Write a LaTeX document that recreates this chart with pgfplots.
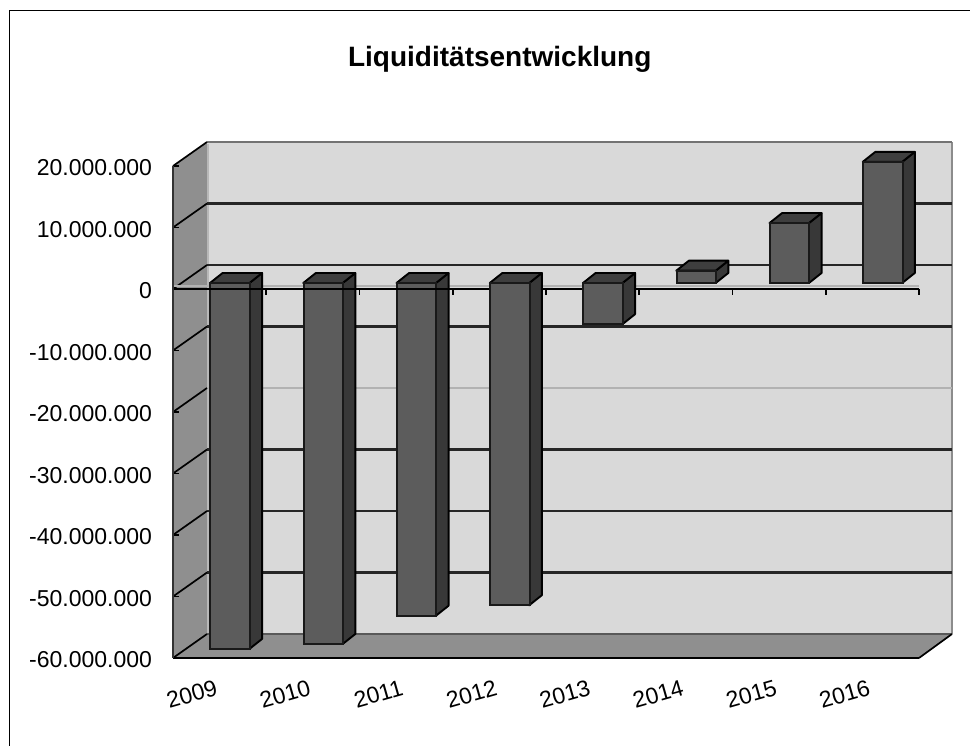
\documentclass[border=0pt]{standalone}
\usepackage{fontspec}
\setmainfont{Liberation Sans}
\usepackage{pgfplots}
\pgfplotsset{compat=1.18}
\definecolor{wallback}{HTML}{D9D9D9}
\definecolor{wallside}{HTML}{8F8F8F}
\definecolor{barfront}{HTML}{5C5C5C}
\definecolor{barside}{HTML}{383838}
\definecolor{bartop}{HTML}{3E3E3E}
\newcommand{\barbox}[2]{%
  \pgfmathsetmacro\xl{#1+0.397}%
  \pgfmathsetmacro\xr{#1+0.82}%
  \pgfmathsetmacro\xb{#1+0.955}%
  \pgfmathsetmacro\xc{#1+0.532}%
  \pgfmathsetmacro\lo{min(0,#2)+0.976}%
  \pgfmathsetmacro\hi{max(0,#2)+0.976}%
  \pgfmathsetmacro\lob{\lo+1.626}%
  \pgfmathsetmacro\hib{\hi+1.626}%
  \addplot[fill=barside,draw=black,line width=1.9pt,line join=round] coordinates {(\xr,\lo)(\xb,\lob)(\xb,\hib)(\xr,\hi)} -- cycle;
  \addplot[fill=bartop,draw=black,line width=1.9pt,line join=round] coordinates {(\xl,\hi)(\xr,\hi)(\xb,\hib)(\xc,\hib)} -- cycle;
}
\begin{document}
\begin{tikzpicture}[x=1pt,y=1pt]
\useasboundingbox (0,0) rectangle (970,746);
\fill[white] (0,0) rectangle (970,746);
\draw[black,line width=1.4pt] (9.5,0) -- (9.5,735.5) -- (970,735.5);
\begin{axis}[
  at={(173pt,88pt)}, anchor=south west,
  scale only axis, width=746pt, height=492pt,
  xmin=0, xmax=8, ymin=-60, ymax=20,
  clip=false, axis on top,
  axis x line*=bottom, axis y line*=left,
  axis line style={black,line width=1.8pt,-},
  x axis line style={black,line width=2.4pt},
  y axis line style={draw=black!80,line width=2pt},
  xtick={0.5,1.5,2.5,3.5,4.5,5.5,6.5,7.5},
  xticklabels={2009,2010,2011,2012,2013,2014,2015,2016},
  ytick={-60,-50,-40,-30,-20,-10,0,10,20},
  yticklabels={-60.000.000,-50.000.000,-40.000.000,-30.000.000,-20.000.000,-10.000.000,0,10.000.000,20.000.000},
  major tick length=6pt,
  x tick style={draw=none},
  y tick style={black,line width=1.4pt},
  tick label style={font=\fontsize{23}{27}\selectfont},
  x tick label style={rotate=16,anchor=center,xshift=-36.6pt,yshift=-27pt},
  y tick label style={anchor=east,xshift=-17.5pt,yshift=-2pt},
  title={\fontsize{28}{32}\selectfont\bfseries Liquiditätsentwicklung},
  title style={at={(0.438,1.2055)},anchor=center},
  unbounded coords=jump,
]
% walls and floor
\addplot[fill=wallback,draw=none] coordinates {(0.3646,-56.098)(8.354,-56.098)(8.354,23.902)(0.3646,23.902)} -- cycle;
\addplot[fill=wallside,draw=none] coordinates {(0,-60)(0.3646,-56.098)(0.3646,23.902)(0,20)} -- cycle;
\addplot[fill=wallside,draw=none] coordinates {(0,-60)(8,-60)(8.354,-56.098)(0.3646,-56.098)} -- cycle;
% wall edges
\addplot[color=black!45,line width=1.8pt] coordinates {(8.354,-56.098)(8.354,23.902)};
\addplot[color=black!55,line width=2.2pt] coordinates {(0.3646,23.902)(8.354,23.902)};
\addplot[color=black!28,line width=2.4pt] coordinates {(0.3746,-56)(0.3746,23.6)};
\addplot[color=black!65,line width=2pt] coordinates {(0.3646,-56.098)(8.354,-56.098)};
% grid on the back wall
\addplot[color=black!85,line width=2.6pt] coordinates {
 (0.3646,13.902)(8.354,13.902)(0,nan)
 (0.3646,3.902)(8.354,3.902)(0,nan)
 (0.3646,-6.098)(8.354,-6.098)(0,nan)
 (0.3646,-26.098)(8.354,-26.098)(0,nan)
 (0.3646,-36.098)(8.354,-36.098)(0,nan)
 (0.3646,-46.098)(8.354,-46.098)};
\addplot[color=black!30,line width=1.2pt] coordinates {(0.3646,-16.098)(8.354,-16.098)};
% grid on the side wall and floor
\addplot[color=black,line width=1.7pt] coordinates {
 (0,20)(0.3646,23.902)(0,nan)
 (0,10)(0.3646,13.902)(0,nan)
 (0,0)(0.3646,3.902)(0,nan)
 (0,-10)(0.3646,-6.098)(0,nan)
 (0,-20)(0.3646,-16.098)(0,nan)
 (0,-30)(0.3646,-26.098)(0,nan)
 (0,-40)(0.3646,-36.098)(0,nan)
 (0,-50)(0.3646,-46.098)(0,nan)
 (0,-60)(0.3646,-56.098)(0,nan)
 (8,-60)(8.354,-56.098)};
% zero line
\addplot[color=black!30,line width=2pt] coordinates {(0,0.5)(8,0.5)};
\addplot[color=black,line width=2.4pt] coordinates {(0,0)(8,0)};
\addplot[color=black,line width=1.6pt] coordinates {
 (1,0)(1,-1)(0,nan)(2,0)(2,-1)(0,nan)(3,0)(3,-1)(0,nan)(4,0)(4,-1)(0,nan)
 (5,0)(5,-1)(0,nan)(6,0)(6,-1)(0,nan)(7,0)(7,-1)(0,nan)(8,0)(8,-1)};
% 3D faces of the bars
\barbox{0}{-59.5}
\barbox{1}{-58.7}
\barbox{2}{-54.1}
\barbox{3}{-52.4}
\barbox{4}{-6.7}
\barbox{5}{2}
\barbox{6}{9.75}
\barbox{7}{19.7}
% front faces (values in millions)
\addplot[ybar,bar width=39.5pt,bar shift=10.5pt,yshift=6pt,fill=barfront,draw=black!90,line width=1.9pt]
 coordinates {(0.5,-59.5)(1.5,-58.7)(2.5,-54.1)(3.5,-52.4)(4.5,-6.7)(5.5,2)(6.5,9.75)(7.5,19.7)};
% zero line passing in front of the first bars
\addplot[color=black,line width=2.4pt] coordinates {(0,0)(3.1,0)};
\end{axis}
\end{tikzpicture}
\end{document}
